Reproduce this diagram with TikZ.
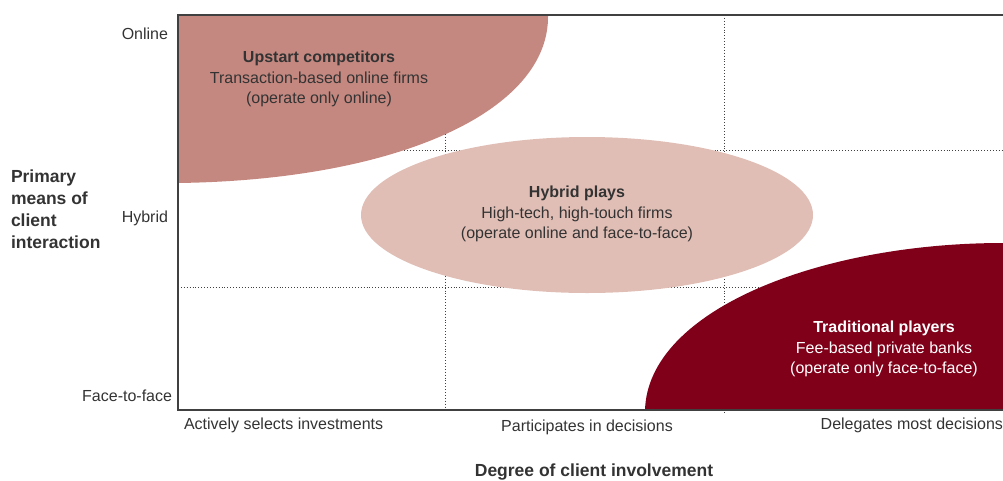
\documentclass[tikz,border=0pt]{standalone}
\usepackage{fontspec}
\setmainfont{Liberation Sans}
\begin{document}
\begin{tikzpicture}[x=1pt,y=-1pt,
  every node/.style={inner sep=0pt, outer sep=0pt, text=black!80},
  body/.style={font=\fontsize{16}{20.5}\selectfont, align=center},
  axislbl/.style={font=\fontsize{16}{20}\selectfont},
  axistitle/.style={font=\fontsize{17.5}{22}\selectfont\bfseries, align=left},
  grid/.style={black!75, line width=0.9pt, dotted},
  frame/.style={black!75, line width=1.6pt}
]
\definecolor{upstart}{HTML}{C48880}
\definecolor{hybrid}{HTML}{E0BEB5}
\definecolor{traditional}{HTML}{80001A}
\useasboundingbox (0,0) rectangle (1003,480);

% quadrant grid
\draw[grid] (445,15) -- (445,410);
\draw[grid] (724,15) -- (724,413);
\draw[grid] (178,150) -- (1003,150);
\draw[grid] (178,287) -- (1003,287);

% segments
\fill[upstart] (178,15) -- (548,15) .. controls (550,110) and (400,180) .. (178,183) -- cycle;
\fill[hybrid] (587,215) ellipse [x radius=226, y radius=78];
\fill[traditional] (645,410) .. controls (648,310) and (820,243) .. (1003,243) -- (1003,410) -- cycle;

% axes frame
\draw[frame] (1003,15) -- (178,15) -- (178,410) -- (1003,410);

% segment labels
\node[body] (up) at (319,79) {\textbf{Upstart competitors}\\Transaction-based online firms\\(operate only online)};
\node[body] (hy) at (577,214) {\textbf{Hybrid plays}\\High-tech, high-touch firms\\(operate online and face-to-face)};
\node[body, text=white] (tr) at (884,349) {\textbf{Traditional players}\\Fee-based private banks\\(operate only face-to-face)};

% vertical axis
\node[axislbl, anchor=east] (on) at (168,34) {Online};
\node[axislbl, anchor=east] (hb) at (168,218) {Hybrid};
\node[axislbl, anchor=east] (ff) at (172,396) {Face-to-face};
\node[axistitle, anchor=west] (yt) at (11,209) {Primary\\means of\\client\\interaction};

% horizontal axis
\node[axislbl, anchor=west] (ac) at (184,425) {Actively selects investments};
\node[axislbl] (pa) at (587,427) {Participates in decisions};
\node[axislbl, anchor=east] (de) at (1003,425) {Delegates most decisions};
\node[axistitle] (xt) at (594,472) {Degree of client involvement};
\end{tikzpicture}
\end{document}
